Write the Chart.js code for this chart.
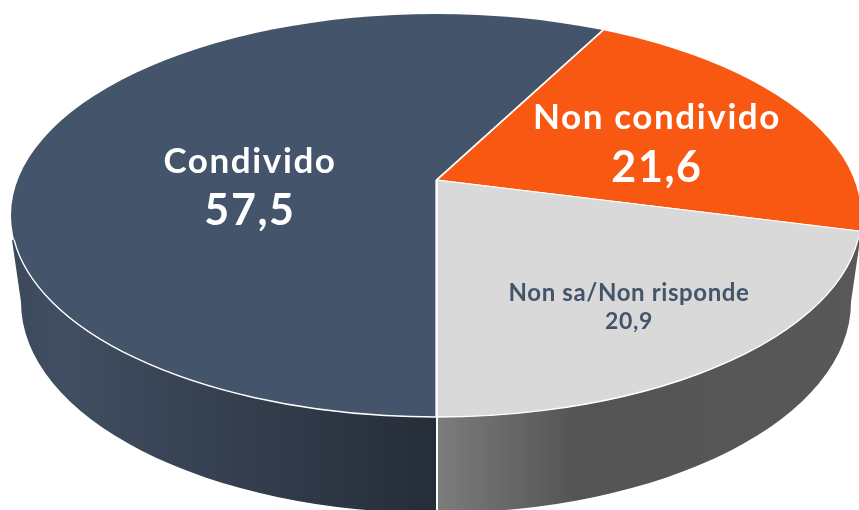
<!DOCTYPE html>
<html lang="it">
<head>
<meta charset="utf-8">
<title>Condivido</title>
<script src="https://cdn.jsdelivr.net/npm/chart.js@4"></script>
<style>html,body{margin:0;padding:0;background:#fff}canvas{display:block}</style>
</head>
<body>
<canvas id="c" width="859" height="510"></canvas>
<script>
const categories = ["Condivido", "Non condivido", "Non sa/Non risponde"];
const values = [57.5, 21.6, 20.9];
const sliceColors = ["#44546a", "#f95812", "#d9d9d9"];
const textColors = ["#ffffff", "#ffffff", "#44546a"];

// Oblique view of the disc
const APEX = {x: 436.7, y: 180}, STRETCH_X = 2.18;
const TOP = {cx: 436, cy: 215.5, rx: 425, ry: 201.5};
const BOTTOM = {cx: 436, cy: 302, rx: 415, ry: 211};
const SEAM_X = 437;

const LABELS = [
  {x: 250, y1: 162, y2: 211, f1: 35, f2: 43, ls: "1.6px"},
  {x: 657, y1: 118, y2: 168, f1: 35, f2: 43, ls: "1.6px"},
  {x: 629, y1: 293, y2: 322, f1: 24, f2: 23, ls: "0.6px"}
];

function wallPath(ctx) {
  ctx.beginPath();
  ctx.moveTo(TOP.cx - TOP.rx + 1, 240);
  ctx.lineTo(BOTTOM.cx - BOTTOM.rx, BOTTOM.cy);
  ctx.ellipse(BOTTOM.cx, BOTTOM.cy, BOTTOM.rx, BOTTOM.ry, 0, Math.PI, 0, true);
  ctx.lineTo(TOP.cx + TOP.rx - 1, 240);
  ctx.ellipse(TOP.cx, TOP.cy, TOP.rx, TOP.ry, 0, 0.12, Math.PI - 0.12, false);
  ctx.closePath();
}

const discPlugin = {
  id: "disc",
  beforeDatasetsDraw(chart) {
    const ctx = chart.ctx;
    // side wall, split at the seam under the last slice boundary
    ctx.save();
    wallPath(ctx); ctx.clip();
    let g = ctx.createLinearGradient(12, 0, SEAM_X, 0);
    g.addColorStop(0, "#3c495b"); g.addColorStop(0.12, "#404e61");
    g.addColorStop(0.6, "#323c4b"); g.addColorStop(1, "#252d38");
    ctx.fillStyle = g; ctx.fillRect(0, 200, SEAM_X, 310);
    g = ctx.createLinearGradient(SEAM_X, 0, 859, 0);
    g.addColorStop(0, "#7c7c7c"); g.addColorStop(0.33, "#545454");
    g.addColorStop(1, "#585858");
    ctx.fillStyle = g; ctx.fillRect(SEAM_X, 200, 430, 310);
    ctx.restore();
    // top face: library arcs, affine-stretched about the apex, trimmed to the rim
    ctx.save();
    ctx.beginPath();
    ctx.ellipse(TOP.cx, TOP.cy, TOP.rx, TOP.ry, 0, 0, Math.PI * 2);
    ctx.clip();
    const a = chart.chartArea;
    ctx.translate(APEX.x, APEX.y);
    ctx.scale(STRETCH_X, 1);
    ctx.translate(-(a.left + a.right) / 2, -(a.top + a.bottom) / 2);
  },
  afterDatasetsDraw(chart) {
    const ctx = chart.ctx;
    ctx.restore();
    // white rim and seam
    ctx.save();
    ctx.strokeStyle = "#ffffff";
    ctx.lineWidth = 1.4;
    ctx.beginPath();
    ctx.ellipse(TOP.cx, TOP.cy, TOP.rx, TOP.ry, 0, 0.12, Math.PI - 0.12, false);
    ctx.stroke();
    ctx.lineWidth = 2;
    ctx.beginPath();
    ctx.moveTo(SEAM_X, TOP.cy + TOP.ry);
    ctx.lineTo(SEAM_X, 510);
    ctx.stroke();
    // labels
    ctx.textAlign = "center";
    ctx.textBaseline = "middle";
    categories.forEach((name, i) => {
      const L = LABELS[i];
      ctx.fillStyle = textColors[i];
      ctx.letterSpacing = L.ls;
      ctx.font = `bold ${L.f1}px Lato, "Open Sans", sans-serif`;
      ctx.fillText(name, L.x, L.y1);
      ctx.font = `bold ${L.f2}px Lato, "Open Sans", sans-serif`;
      ctx.fillText(values[i].toFixed(1).replace(".", ","), L.x, L.y2);
    });
    ctx.restore();
  }
};

new Chart(document.getElementById("c"), {
  type: "pie",
  data: {
    labels: categories,
    datasets: [{
      data: values,
      backgroundColor: sliceColors,
      borderColor: "#ffffff",
      borderWidth: 1,
      clip: false
    }]
  },
  options: {
    responsive: false,
    animation: false,
    rotation: 180,
    layout: {padding: 0},
    plugins: {legend: {display: false}, tooltip: {enabled: false}}
  },
  plugins: [discPlugin]
});
</script>
</body>
</html>
